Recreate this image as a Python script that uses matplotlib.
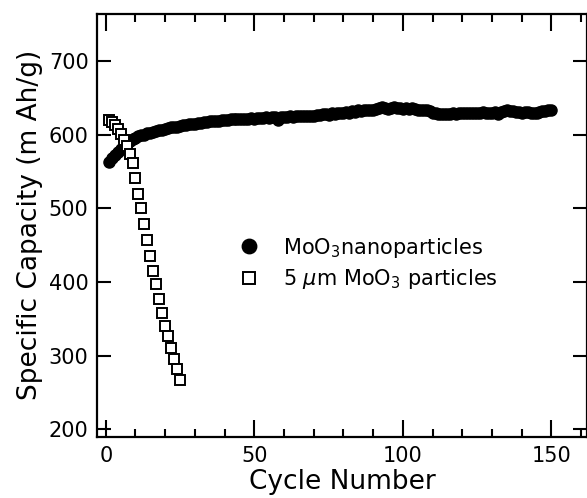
import matplotlib
matplotlib.use("Agg")
import matplotlib.pyplot as plt
from matplotlib.ticker import MultipleLocator

# MoO3 nanoparticles, one point per cycle (1..150)
nano_cycles = list(range(1, 151))
nano_capacity = [
    563, 568, 573, 577, 581, 585, 588, 591, 594, 596,
    598, 599, 600, 602, 603, 604, 605, 606, 607, 608,
    609, 610, 610, 611, 612, 613, 613, 614, 615, 615,
    616, 616, 617, 617, 618, 618, 619, 619, 620, 620,
    620, 621, 621, 621, 622, 622, 622, 622, 623, 622,
    623, 623, 623, 624, 623, 624, 624, 620, 624, 624,
    624, 625, 624, 625, 625, 626, 625, 626, 626, 626,
    627, 627, 628, 628, 627, 629, 628, 630, 629, 630,
    631, 630, 632, 631, 633, 632, 633, 634, 633, 634,
    635, 636, 638, 636, 635, 636, 637, 636, 636, 635,
    636, 635, 636, 635, 634, 634, 633, 633, 632, 630,
    629, 628, 628, 628, 628, 628, 629, 628, 629, 629,
    629, 630, 629, 630, 630, 630, 631, 630, 629, 630,
    631, 628, 631, 632, 634, 632, 632, 631, 631, 630,
    631, 631, 630, 629, 630, 631, 632, 632, 633, 633,
]

# 5 um MoO3 particles
micro_cycles = list(range(1, 26))
micro_capacity = [
    620, 617, 613, 608, 601, 593, 585, 574, 561, 541,
    520, 500, 479, 457, 435, 415, 397, 377, 358, 340,
    327, 310, 295, 282, 267,
]

fig = plt.figure(figsize=(5.87, 4.98), dpi=100)
ax = fig.add_axes([0.165, 0.123, 0.835, 0.849])

ax.plot(nano_cycles, nano_capacity, "o", color="black", markersize=8,
        label="MoO$_3$nanoparticles")
ax.plot(micro_cycles, micro_capacity, "s", color="black", markerfacecolor="white",
        markersize=7, markeredgewidth=1.4, label=r"5 $\mu$m MoO$_3$ particles")

ax.set_xlim(-3, 162)
ax.set_ylim(190, 764)
ax.xaxis.set_major_locator(MultipleLocator(50))
ax.xaxis.set_minor_locator(MultipleLocator(10))
ax.yaxis.set_major_locator(MultipleLocator(100))

ax.tick_params(axis="both", which="both", direction="in", top=True, right=True,
               labelsize=15, width=1.5)
ax.tick_params(axis="x", which="major", length=12, pad=7)
ax.tick_params(axis="x", which="minor", length=6)
ax.tick_params(axis="y", which="major", length=10, pad=6)
for s in ax.spines.values():
    s.set_linewidth(1.6)

ax.set_xlabel("Cycle Number", fontsize=19, labelpad=2)
ax.set_ylabel("Specific Capacity (m Ah/g)", fontsize=19, labelpad=4)

ax.legend(loc="center", bbox_to_anchor=(0.543, 0.41), frameon=False, fontsize=15,
          markerscale=1.3, handletextpad=0.6, labelspacing=0.35)

fig.savefig("out.png", dpi=100)
